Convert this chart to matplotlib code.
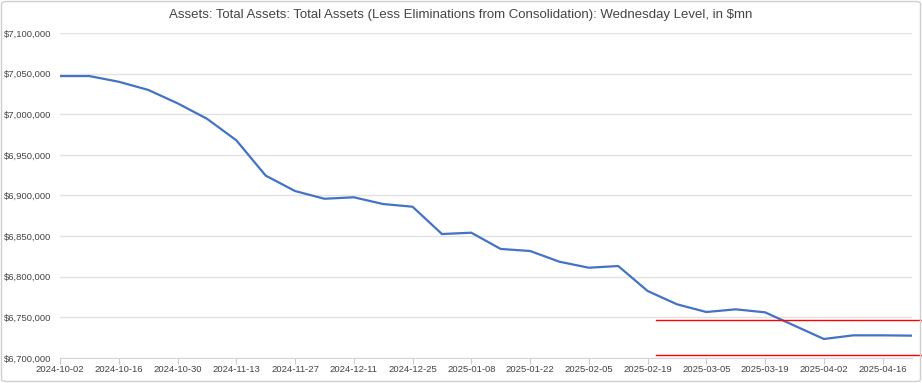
import matplotlib
matplotlib.use("Agg")
import matplotlib.pyplot as plt
import matplotlib.dates as mdates
from matplotlib.patches import FancyBboxPatch
from matplotlib.ticker import FuncFormatter
import numpy as np

# weekly Wednesday levels, $mn
dates = np.arange(np.datetime64("2024-10-02"), np.datetime64("2025-04-24"), 7)
values = [7047000, 7047000, 7040000, 7030000, 7013500, 6994500, 6968000, 6924500,
          6905500, 6896000, 6897800, 6889500, 6886200, 6852600, 6854200, 6834200,
          6831700, 6818500, 6811100, 6813200, 6782500, 6766100, 6756600, 6759900,
          6756200, 6739800, 6723400, 6727900, 6727900, 6727500]
tick_dates = np.arange(np.datetime64("2024-10-02"), np.datetime64("2025-04-24"), 14)
red_levels = [6746400, 6703700]
red_start = np.datetime64("2025-02-21")

title = ("Assets: Total Assets: Total Assets (Less Eliminations from Consolidation): "
         "Wednesday Level, in $mn")

plt.rcParams["font.family"] = ["Liberation Sans", "DejaVu Sans"]

fig = plt.figure(figsize=(9.22, 3.83), dpi=100)
ax = fig.add_axes([60 / 922, 1 - 358 / 383, 852 / 922, 325 / 383])

d = dates.astype("datetime64[D]").astype(object)
ax.plot(d, values, color="#4472c4", lw=1.6, solid_joinstyle="round")

ax.set_xlim(d[0], d[-1])
ax.set_ylim(6700000, 7100000)
ax.set_yticks(np.arange(6700000, 7100001, 50000))
ax.yaxis.set_major_formatter(FuncFormatter(lambda v, p: "${:,.0f}".format(v)))
ax.set_xticks(tick_dates.astype("datetime64[D]").astype(object))
ax.xaxis.set_major_formatter(mdates.DateFormatter("%Y-%m-%d"))

ax.grid(axis="y", color="#e2e2e2", lw=1)
ax.set_axisbelow(True)
for s in ["top", "right", "left"]:
    ax.spines[s].set_visible(False)
ax.spines["bottom"].set_color("#d5d5d5")
ax.tick_params(axis="y", length=0, pad=6, labelsize=6.8, labelcolor="#444444")
ax.tick_params(axis="x", length=4, width=0.8, color="#cccccc", pad=1,
               labelsize=6.8, labelcolor="#444444")

# red reference lines
for lv in red_levels:
    ax.plot([red_start.astype(object), np.datetime64("2025-05-01").astype(object)],
            [lv, lv], color="#ff0000", lw=1, clip_on=False)

fig.text(0.5, 1 - 15 / 383, title, fontsize=9.5, color="#444444",
         ha="center", va="center")

fig.patches.append(FancyBboxPatch((1.5 / 922, 1.5 / 383), 919 / 922, 380 / 383,
                                  boxstyle="round,pad=0,rounding_size=0.006",
                                  transform=fig.transFigure, fill=False,
                                  ec="#cfcfcf", lw=1))

fig.savefig("out.png", dpi=100)
